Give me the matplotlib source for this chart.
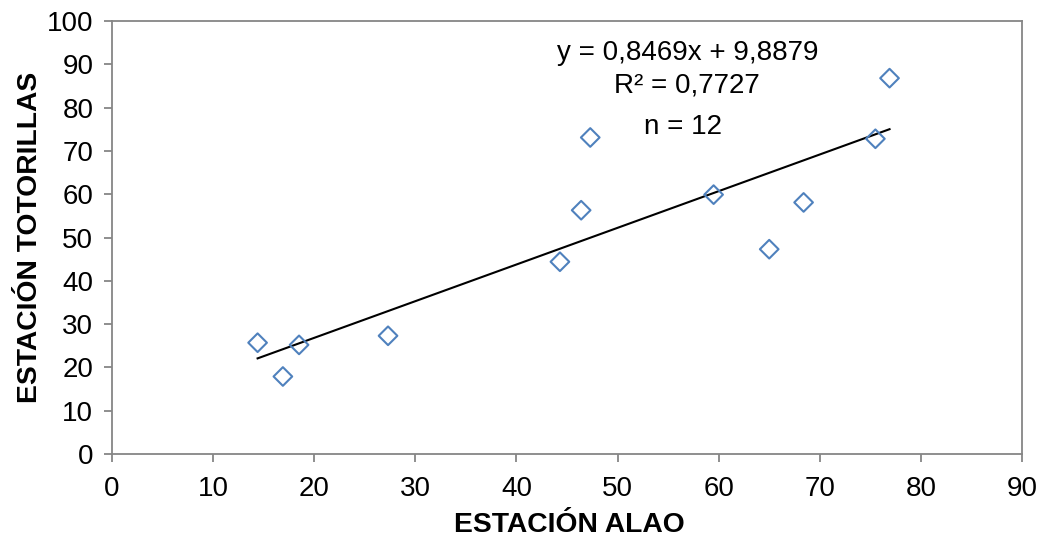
import matplotlib
matplotlib.use("Agg")
import matplotlib.pyplot as plt
import numpy as np

# Data
alao = [14.4, 16.9, 18.5, 27.3, 44.3, 46.4, 47.3, 59.5, 65.0, 68.4, 75.5, 76.9]
totorillas = [25.7, 17.9, 25.2, 27.3, 44.4, 56.3, 73.1, 59.9, 47.3, 58.1, 72.8, 86.8]
slope = 0.8469
intercept = 9.8879
r2_text = "R² = 0,7727"
eq_text = "y = 0,8469x + 9,8879"
n_text = "n = 12"
x_ticks = list(range(0, 91, 10))
y_ticks = list(range(0, 101, 10))

plt.rcParams['font.family'] = ['Liberation Sans', 'DejaVu Sans']

fig = plt.figure(figsize=(10.43, 5.39), dpi=100)
ax = fig.add_axes([112/1043, 85/539, 910/1043, 433/539])

ax.scatter(alao, totorillas, marker='D', s=9.5**2, facecolors='none',
           edgecolors='#4F81BD', linewidths=1.5, zorder=3)

xs = np.array([min(alao), max(alao)])
ax.plot(xs, slope*xs + intercept, color='black', linewidth=1.5, zorder=2)

ax.set_xlim(0, 90)
ax.set_ylim(0, 100)
ax.set_xticks(x_ticks)
ax.set_yticks(y_ticks)

for s in ax.spines.values():
    s.set_color('#868686')
    s.set_linewidth(1.3)
ax.tick_params(axis='both', direction='out', length=6, width=1.3, color='#868686',
               labelsize=20, labelcolor='black')
ax.tick_params(axis='x', pad=10)
ax.tick_params(axis='y', pad=7.5)

ax.set_xlabel("ESTACIÓN ALAO", fontsize=20.3, fontweight='bold')
ax.set_ylabel("ESTACIÓN TOTORILLAS", fontsize=20.3, fontweight='bold')
ax.xaxis.set_label_coords(457/910, -71/433)
ax.xaxis.label.set_va('center')
ax.yaxis.set_label_coords(-82/910, 0.5)
ax.yaxis.label.set_va('center')

ax.text(56.9, 92.6, eq_text, fontsize=20, ha='center', va='center')
ax.text(56.9, 85.0, r2_text, fontsize=20, ha='center', va='center')
ax.text(56.5, 75.5, n_text, fontsize=20, ha='center', va='center')

fig.savefig("out.png", dpi=100)
